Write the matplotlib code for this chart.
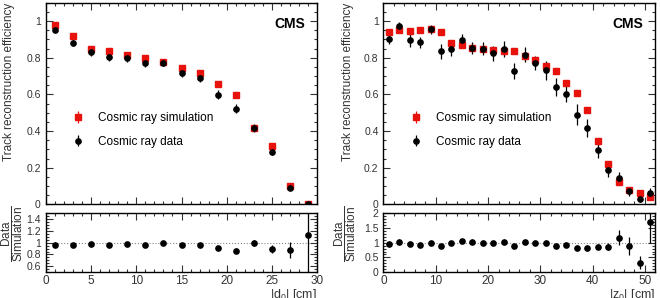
import matplotlib.pyplot as plt
from matplotlib.ticker import MultipleLocator

plt.rcParams['font.family'] = ['Liberation Sans', 'DejaVu Sans']
plt.rcParams['mathtext.fontset'] = 'custom'
plt.rcParams['mathtext.rm'] = 'Liberation Sans'
plt.rcParams['mathtext.it'] = 'Liberation Sans:italic'

# |d0| bins (centres, cm)
d0_x = [1, 3, 5, 7, 9, 11, 13, 15, 17, 19, 21, 23, 25, 27, 29]
d0_sim = [0.978, 0.916, 0.849, 0.835, 0.817, 0.799, 0.779, 0.742, 0.719, 0.657, 0.599,
          0.416, 0.319, 0.101, 0.002]
d0_sim_err = [0.005, 0.006, 0.007, 0.007, 0.007, 0.008, 0.008, 0.008, 0.008, 0.009, 0.009,
              0.010, 0.010, 0.008, 0.003]
d0_data = [0.953, 0.882, 0.831, 0.804, 0.800, 0.769, 0.773, 0.717, 0.690, 0.599, 0.523,
           0.416, 0.285, 0.089, 0.002]
d0_data_err = [0.012, 0.018, 0.022, 0.024, 0.024, 0.022, 0.020, 0.020, 0.020, 0.024, 0.024,
               0.022, 0.018, 0.012, 0.004]
d0_ratio = [0.965, 0.957, 0.975, 0.963, 0.979, 0.963, 0.989, 0.963, 0.957, 0.909, 0.865,
            0.99, 0.893, 0.877, 1.128]
d0_ratio_err = [0.015, 0.02, 0.025, 0.03, 0.03, 0.03, 0.03, 0.03, 0.03, 0.035, 0.04,
                0.05, 0.06, 0.13, 1.0]

# |z0| bins (centres, cm)
z0_x = [1, 3, 5, 7, 9, 11, 13, 15, 17, 19, 21, 23, 25, 27, 29, 31, 33, 35, 37, 39, 41, 43,
        45, 47, 49, 51]
z0_sim = [0.940, 0.950, 0.943, 0.949, 0.954, 0.940, 0.880, 0.871, 0.853, 0.850, 0.842,
          0.834, 0.836, 0.807, 0.789, 0.755, 0.727, 0.664, 0.608, 0.514, 0.345, 0.221,
          0.124, 0.081, 0.064, 0.039]
z0_sim_err = [0.008] * 20 + [0.010, 0.010, 0.012, 0.010, 0.008, 0.008]
z0_data = [0.904, 0.973, 0.894, 0.883, 0.954, 0.834, 0.849, 0.898, 0.853, 0.849, 0.824,
           0.847, 0.727, 0.816, 0.771, 0.731, 0.642, 0.602, 0.490, 0.417, 0.298, 0.189,
           0.142, 0.071, 0.027, 0.064]
z0_data_err = [0.03, 0.02, 0.035, 0.03, 0.025, 0.04, 0.04, 0.03, 0.035, 0.035, 0.04,
               0.045, 0.045, 0.04, 0.04, 0.05, 0.05, 0.045, 0.055, 0.05, 0.045, 0.04,
               0.035, 0.025, 0.015, 0.025]
z0_ratio = [0.967, 1.02, 0.956, 0.933, 1.0, 0.889, 0.978, 1.04, 1.01, 1.0, 0.989, 1.02,
            0.878, 1.02, 0.989, 0.989, 0.889, 0.922, 0.811, 0.811, 0.867, 0.856, 1.156,
            0.878, 0.322, 1.70]
z0_ratio_err = [0.04, 0.03, 0.04, 0.04, 0.03, 0.05, 0.05, 0.04, 0.04, 0.04, 0.05, 0.05,
                0.06, 0.05, 0.05, 0.06, 0.07, 0.07, 0.07, 0.07, 0.08, 0.12, 0.25,
                0.3, 0.22, 0.7]

fig = plt.figure(figsize=(6.6, 2.98), dpi=100)


def style(ax):
    ax.tick_params(which='both', direction='in', top=True, right=True, labelsize=7.5,
                   colors='#333333', labelcolor='#333333', width=0.8)
    ax.tick_params(which='major', length=5)
    ax.tick_params(which='minor', length=2.5)
    for s in ax.spines.values():
        s.set_linewidth(1.0)


def panel(left, x, sim, sim_err, data, data_err, ratio, ratio_err, xmax, xmaj, xmin,
          rlim, rmin, rticks, rlabels, xlabel, labx, rlabx):
    top = fig.add_axes([left, 0.314, 0.412, 0.677])
    bot = fig.add_axes([left, 0.086, 0.412, 0.200])

    hs = top.errorbar(x, sim, yerr=sim_err, fmt='s', color='#e8120c', ms=3.8, elinewidth=0.9,
                      capsize=0)
    hd = top.errorbar(x, data, yerr=data_err, fmt='o', color='black', ms=3.8, elinewidth=0.9,
                      capsize=0)
    top.set_xlim(0, xmax)
    top.set_ylim(0, 1.1)
    top.xaxis.set_major_locator(MultipleLocator(xmaj))
    top.xaxis.set_minor_locator(MultipleLocator(xmin))
    top.yaxis.set_minor_locator(MultipleLocator(0.05))
    top.set_yticks([0, 0.2, 0.4, 0.6, 0.8, 1.0])
    top.set_yticklabels(['0', '0.2', '0.4', '0.6', '0.8', '1'])
    top.set_xticklabels([])
    style(top)
    top.set_ylabel('Track reconstruction efficiency', fontsize=8.5, color='#333333',
                   loc='top')
    top.yaxis.set_label_coords(labx, 1.0)
    top.text(0.955, 0.895, 'CMS', transform=top.transAxes, ha='right', va='center',
             fontsize=10, fontweight='bold')
    top.legend([hs, hd], ['Cosmic ray simulation', 'Cosmic ray data'], frameon=False,
               loc='center left', bbox_to_anchor=(0.06, 0.37), fontsize=8.5,
               handletextpad=1.2, labelspacing=1.0, handlelength=1.0)

    bot.errorbar(x, ratio, yerr=ratio_err, fmt='o', color='black', ms=3.8, elinewidth=0.9,
                 capsize=0)
    bot.axhline(1.0, color='#888888', ls=':', lw=0.8, zorder=0)
    bot.set_xlim(0, xmax)
    bot.set_ylim(*rlim)
    bot.xaxis.set_major_locator(MultipleLocator(xmaj))
    bot.xaxis.set_minor_locator(MultipleLocator(xmin))
    bot.yaxis.set_minor_locator(MultipleLocator(rmin))
    bot.set_yticks(rticks)
    bot.set_yticklabels(rlabels)
    style(bot)
    bot.tick_params(axis='x', labelsize=8.5, pad=2)
    bot.set_ylabel(r'$\dfrac{\mathrm{Data}}{\mathrm{Simulation}}$', fontsize=8.5,
                   color='#333333', loc='top')
    bot.yaxis.set_label_coords(rlabx, 1.12)
    bot.set_xlabel(xlabel, fontsize=9, color='#333333', loc='right', labelpad=0)
    return top, bot


panel(0.069, d0_x, d0_sim, d0_sim_err, d0_data, d0_data_err, d0_ratio, d0_ratio_err,
      30, 5, 1, (0.5, 1.5), 0.05, [0.6, 0.8, 1.0, 1.2, 1.4],
      ['0.6', '0.8', '1', '1.2', '1.4'], r'|d$_0$| [cm]', -0.113, -0.075)
panel(0.581, z0_x, z0_sim, z0_sim_err, z0_data, z0_data_err, z0_ratio, z0_ratio_err,
      52, 10, 2, (0, 2), 0.1, [0, 0.5, 1.0, 1.5, 2.0],
      ['0', '0.5', '1', '1.5', '2'], r'|z$_0$| [cm]', -0.11, -0.095)

fig.savefig('out.png', dpi=100)
